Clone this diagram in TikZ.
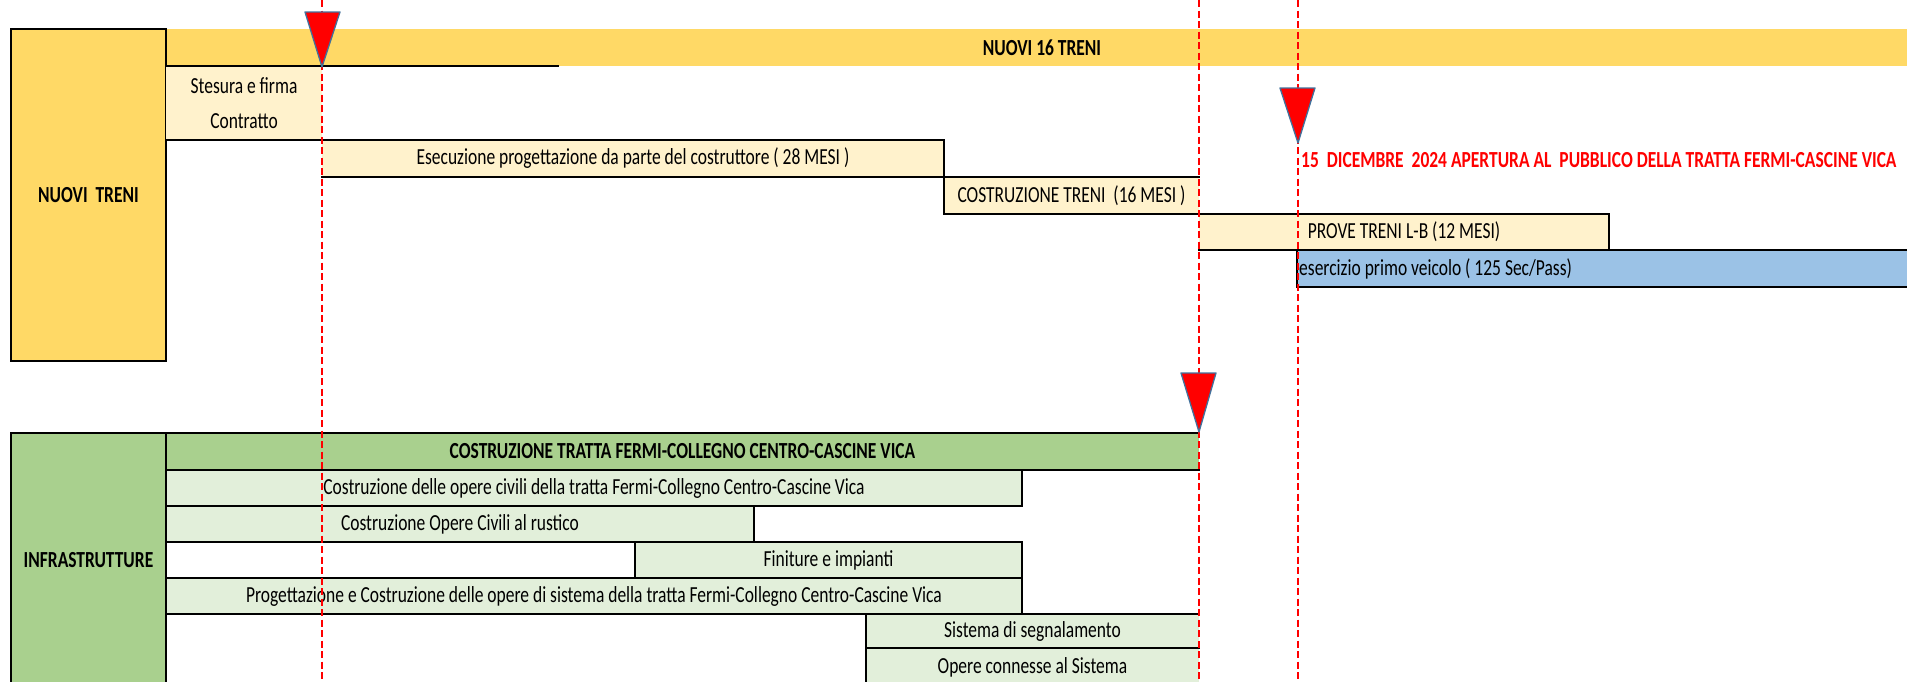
\documentclass[tikz,border=0pt]{standalone}
\usepackage{fontspec}
\setmainfont{Carlito}[FakeStretch=0.76]
\definecolor{gold}{HTML}{FFD966}
\definecolor{cream}{HTML}{FFF2CC}
\definecolor{lgreen}{HTML}{E2EFDA}
\definecolor{mgreen}{HTML}{A9D08E}
\definecolor{lblue}{HTML}{9BC2E6}
\definecolor{tribd}{HTML}{41719C}
\begin{document}
\begin{tikzpicture}[x=1pt,y=-1pt,
  cell/.style={anchor=north west, inner sep=0pt, outer sep=0pt, align=center, font=\fontsize{23}{28}\selectfont},
  rule/.style={line width=2.8pt, line cap=rect, black},
  vline/.style={red, line width=2pt, dash pattern=on 7pt off 3.5pt},
  tri/.style={fill=red, draw=tribd, line width=1.3pt, line join=round}]
\useasboundingbox (0,0) rectangle (1907,681);

% ---------- NUOVI TRENI ----------
\node[cell, fill=gold, minimum width=1741pt, minimum height=37pt] (bar) at (166,29) {\bfseries\hspace*{11pt}NUOVI 16 TRENI};
\node[cell, fill=gold, draw=black, line width=2.8pt, minimum width=155pt, minimum height=332pt] (nt) at (11,29) {\bfseries NUOVI\ \ TRENI};
\node[cell, fill=cream, minimum width=156pt, minimum height=74pt, font=\fontsize{23}{35}\selectfont] (stes) at (166,66) {Stesura e firma\\Contratto};
\node[cell, fill=cream, minimum width=622pt, minimum height=37pt] (esec) at (322,140) {Esecuzione progettazione da parte del costruttore ( 28 MESI )};
\node[cell, fill=cream, minimum width=255pt, minimum height=37pt] (costr) at (944,177) {COSTRUZIONE TRENI\ \ (16 MESI )};
\node[cell, fill=cream, minimum width=410pt, minimum height=36pt] (prove) at (1199,214) {PROVE TRENI L-B (12 MESI)};
\node[cell, fill=lblue, minimum width=610pt, minimum height=37pt] (eser) at (1297,250) {};
\node[anchor=west, inner sep=0pt, font=\fontsize{23}{28}\selectfont] (esertext) at ([xshift=2pt]eser.west) {esercizio primo veicolo ( 125 Sec/Pass)};
\node[anchor=west, inner sep=0pt, text=red, font=\fontsize{23}{28}\selectfont\bfseries] (apertura) at (1301,160) {15\ \ DICEMBRE\ \ 2024 APERTURA AL\ \ PUBBLICO DELLA TRATTA FERMI-CASCINE VICA};

\draw[rule] (166,66) -- (558,66);
\draw[rule] (166,140) -- (944,140);
\draw[rule] (944,140) -- (944,214);
\draw[rule] (322,177) -- (1199,177);
\draw[rule] (944,214) -- (1609,214);
\draw[rule] (1609,214) -- (1609,250);
\draw[rule] (1199,250) -- (1907,250);
\draw[rule] (1297,250) -- (1297,287);
\draw[rule] (1297,287) -- (1907,287);

% ---------- INFRASTRUTTURE ----------
\node[cell, fill=mgreen, minimum width=155pt, minimum height=254pt] (inf) at (11,433) {\bfseries INFRASTRUTTURE};
\node[cell, fill=mgreen, minimum width=1033pt, minimum height=37pt] (ctr) at (166,433) {\bfseries COSTRUZIONE TRATTA FERMI-COLLEGNO CENTRO-CASCINE VICA};
\node[cell, fill=lgreen, minimum width=856pt, minimum height=36pt] (r1) at (166,470) {Costruzione delle opere civili della tratta Fermi-Collegno Centro-Cascine Vica};
\node[cell, fill=lgreen, minimum width=588pt, minimum height=36pt] (r2) at (166,506) {Costruzione Opere Civili al rustico};
\node[cell, fill=lgreen, minimum width=387pt, minimum height=36pt] (r3) at (635,542) {Finiture e impianti};
\node[cell, fill=lgreen, minimum width=856pt, minimum height=36pt] (r4) at (166,578) {Progettazione e Costruzione delle opere di sistema della tratta Fermi-Collegno Centro-Cascine Vica};
\node[cell, fill=lgreen, minimum width=333pt, minimum height=34pt] (r5) at (866,614) {Sistema di segnalamento};
\node[cell, fill=lgreen, minimum width=333pt, minimum height=38pt] (r6) at (866,648) {Opere connesse al Sistema};

\draw[rule] (11,433) -- (1199,433);
\draw[rule] (11,433) -- (11,695);
\draw[rule] (166,433) -- (166,695);
\draw[rule] (166,470) -- (1199,470);
\draw[rule] (166,506) -- (1022,506);
\draw[rule] (1022,470) -- (1022,506);
\draw[rule] (754,506) -- (754,542);
\draw[rule] (166,542) -- (1022,542);
\draw[rule] (635,542) -- (635,578);
\draw[rule] (1022,542) -- (1022,614);
\draw[rule] (166,578) -- (1022,578);
\draw[rule] (166,614) -- (1199,614);
\draw[rule] (866,614) -- (866,695);
\draw[rule] (866,648) -- (1199,648);

% ---------- milestones ----------
\coordinate (m1t) at (322,0);  \coordinate (m1b) at (322,681);
\coordinate (m2t) at (1199,0); \coordinate (m2b) at (1199,681);
\coordinate (m3t) at (1298,0); \coordinate (m3b) at (1298,681);
\draw[vline] (m1t) -- (m1b);
\draw[vline] (m2t) -- (m2b);
\draw[vline] (m3t) -- (m3b);

\filldraw[tri] (305,12) -- (340,12) -- (322,67) -- cycle;
\filldraw[tri] (1280,88) -- (1315,88) -- (1298,143) -- cycle;
\filldraw[tri] (1181,373) -- (1216,373) -- (1199,432) -- cycle;
\end{tikzpicture}
\end{document}
